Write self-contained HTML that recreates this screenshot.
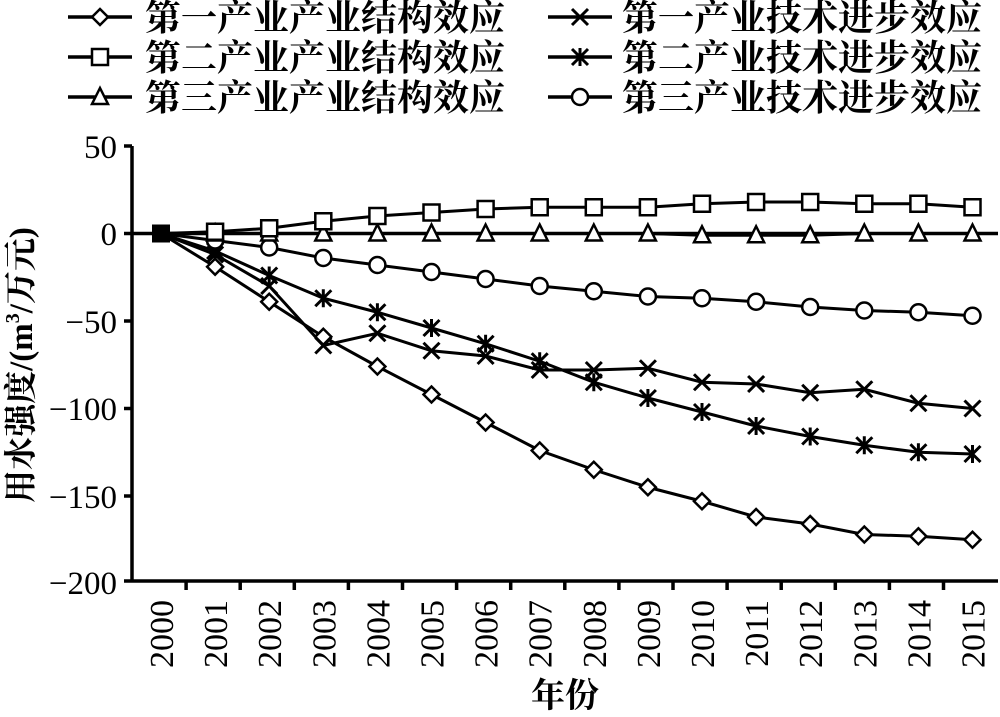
<!DOCTYPE html>
<html><head><meta charset="utf-8"><style>body{margin:0;background:#fff}svg{display:block}</style></head><body>
<svg width="1000" height="717" xmlns="http://www.w3.org/2000/svg" font-family="'Liberation Serif','Noto Serif CJK SC',serif">
<defs>
<g id="dia"><path d="M0,-8 L8,0 L0,8 L-8,0Z" fill="#fff" stroke="#000" stroke-width="2.5"/></g>
<g id="sq"><rect x="-8" y="-8" width="16" height="16" fill="#fff" stroke="#000" stroke-width="2.5"/></g>
<g id="tri"><path d="M0,-9 L8,7 L-8,7Z" fill="#fff" stroke="#000" stroke-width="2.5"/></g>
<g id="cir"><circle r="8" fill="#fff" stroke="#000" stroke-width="2.5"/></g>
<g id="xx"><path d="M-8,-8 L8,8 M-8,8 L8,-8" stroke="#000" stroke-width="3"/></g>
<g id="ast"><path d="M-8,-8 L8,8 M-8,8 L8,-8 M0,-9 L0,9" stroke="#000" stroke-width="3"/></g>
</defs>
<g font-size="36" font-weight="bold">
<line x1="68" y1="17" x2="132" y2="17" stroke="#000" stroke-width="3.5"/><use href="#dia" x="100" y="17"/>
<text x="145" y="30">第一产业产业结构效应</text>
<line x1="68" y1="57" x2="132" y2="57" stroke="#000" stroke-width="3.5"/><use href="#sq" x="100" y="57"/>
<text x="145" y="70">第二产业产业结构效应</text>
<line x1="68" y1="97" x2="132" y2="97" stroke="#000" stroke-width="3.5"/><use href="#tri" x="100" y="97"/>
<text x="145" y="110">第三产业产业结构效应</text>
<line x1="548" y1="17" x2="612" y2="17" stroke="#000" stroke-width="3.5"/><use href="#xx" x="580" y="17"/>
<text x="622" y="30">第一产业技术进步效应</text>
<line x1="548" y1="57" x2="612" y2="57" stroke="#000" stroke-width="3.5"/><use href="#ast" x="580" y="57"/>
<text x="622" y="70">第二产业技术进步效应</text>
<line x1="548" y1="97" x2="612" y2="97" stroke="#000" stroke-width="3.5"/><use href="#cir" x="580" y="97"/>
<text x="622" y="110">第三产业技术进步效应</text>
</g>
<g stroke="#000" stroke-width="3.5" fill="none">
<line x1="132" y1="146" x2="132" y2="581"/>
<line x1="124" y1="146" x2="132" y2="146"/>
<line x1="124" y1="233.5" x2="132" y2="233.5"/>
<line x1="124" y1="321" x2="132" y2="321"/>
<line x1="124" y1="408.5" x2="132" y2="408.5"/>
<line x1="124" y1="496" x2="132" y2="496"/>
<line x1="124" y1="581" x2="998" y2="581"/>
<line x1="132" y1="233.5" x2="998" y2="233.5"/>
<path id="ticks" d=""/>
</g>
<g font-size="33" text-anchor="end">
<text x="117" y="158">50</text><text x="117" y="245">0</text><text x="117" y="333">−50</text>
<text x="117" y="420">−100</text><text x="117" y="508">−150</text><text x="117" y="594">−200</text>
</g>
<text font-size="33" font-weight="bold" transform="translate(32,365) rotate(-90)" text-anchor="middle">用水强度/(m<tspan font-size="20" dy="-13">3</tspan><tspan dy="13">/万元)</tspan></text>
<text x="565" y="707" font-size="34" font-weight="bold" text-anchor="middle">年份</text>
<g id="xl" font-size="34"></g>
<g id="plot"></g>
<script>
var ns="http://www.w3.org/2000/svg";
function X(i){return 161+i*54.1}function Y(v){return 233.5-v*1.75}
var t=document.getElementById('ticks'),d="";
for(var i=1;i<16;i++){var x=132+i*54.1;d+="M"+x+",581 L"+x+",590 ";}
t.setAttribute('d',d);
var xl=document.getElementById('xl');
for(var i=0;i<16;i++){var e=document.createElementNS(ns,'text');e.setAttribute('transform','translate('+(X(i)+12)+',600) rotate(-90)');e.setAttribute('text-anchor','end');e.textContent=2000+i;xl.appendChild(e);}
var S=[
["dia",[0,-19,-39,-59,-76,-92,-108,-124,-135,-145,-153,-162,-166,-172,-173,-175]],
["xx",[0,-12,-30,-64,-57,-67,-70,-78,-78,-77,-85,-86,-91,-89,-97,-100]],
["ast",[0,-10,-24,-37,-45,-54,-63,-73,-85,-94,-102,-110,-116,-121,-125,-126]],
["cir",[0,-4,-8,-14,-18,-22,-26,-30,-33,-36,-37,-39,-42,-44,-45,-47]],
["tri",[0,0,0,0,0,0,0,0,0,0,-1,-1,-1,0,0,0]],
["sq",[0,1,3,7,10,12,14,15,15,15,17,18,18,17,17,15]]];
var p=document.getElementById('plot');
S.forEach(function(s){var pts=s[1].map(function(v,i){return X(i)+","+Y(v)}).join(" ");
var l=document.createElementNS(ns,'polyline');l.setAttribute('points',pts);l.setAttribute('fill','none');l.setAttribute('stroke','#000');l.setAttribute('stroke-width','3');p.appendChild(l);});
S.forEach(function(s){s[1].forEach(function(v,i){if(i==0)return;var u=document.createElementNS(ns,'use');u.setAttribute('href','#'+s[0]);u.setAttribute('x',X(i));u.setAttribute('y',Y(v));p.appendChild(u);});});
var r=document.createElementNS(ns,'rect');r.setAttribute('x',X(0)-9);r.setAttribute('y',224.5);r.setAttribute('width',18);r.setAttribute('height',18);p.appendChild(r);
</script>
</svg>
</body></html>
